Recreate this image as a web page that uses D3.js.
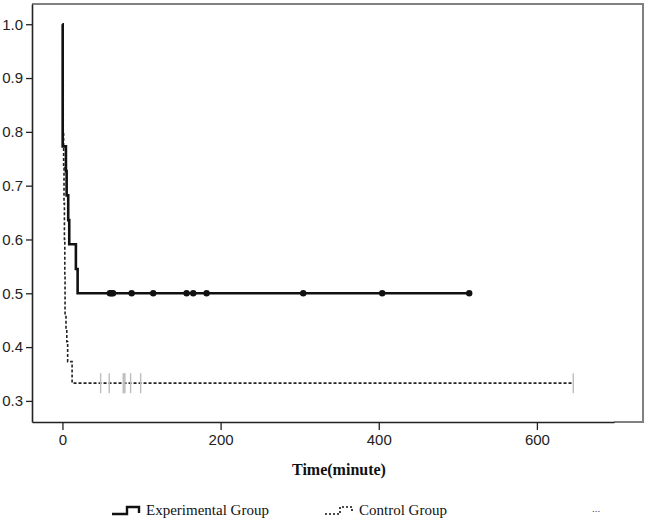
<!DOCTYPE html>
<html>
<head>
<meta charset="utf-8">
<script src="https://cdn.jsdelivr.net/npm/d3@7"></script>
<style>
  body { margin: 0; background: #fff; }
  svg { display: block; }
</style>
</head>
<body>
<svg width="648" height="521"></svg>
<script>
// experimental group: step times and survival after each step
const expTime = [0, 0.3, 4.4, 5.3, 7.3, 8.6, 17, 19.2];
const expSurv = [1.0, 0.773, 0.727, 0.682, 0.636, 0.591, 0.545, 0.5];
const expCensor = [60, 62, 64, 87.5, 114.8, 157, 165.4, 182.3, 304.5, 404.4, 514.4];

// control group
const ctrlTime = [0, 0.5, 1, 1.5, 2, 2.5, 3, 3.3, 4.5, 5.5, 6.6, 12.2];
const ctrlSurv = [1.0, 0.9, 0.8, 0.733, 0.667, 0.6, 0.533, 0.46, 0.433, 0.41, 0.373, 0.333];
const ctrlCensor = [48.3, 59.2, 76.9, 78, 79, 86.2, 98.9, 646];

const xTicks = [0, 200, 400, 600];
const yTicks = [0.3, 0.4, 0.5, 0.6, 0.7, 0.8, 0.9, 1.0];

const legendItems = ["Experimental Group", "Control Group"];
const x_label = "Time(minute)";

const plot = { left: 32, right: 614, frameRight: 643, top: 4, bottom: 422 };

const svg = d3.select("svg");

const x_scale = d3.scaleLinear().domain([-38.5, 697.5]).range([plot.left, plot.right]);
const y_scale = d3.scaleLinear().domain([0.2608, 1.0376]).range([plot.bottom, plot.top]);

// gray frame (top, right, lower right piece)
svg.append("path")
  .attr("d", `M${plot.left},${plot.top}H${plot.frameRight}V${plot.bottom}H${plot.right}`)
  .attr("fill", "none")
  .attr("stroke", "#808080")
  .attr("stroke-width", 2);

const y_axis = d3.axisLeft(y_scale)
  .tickValues(yTicks)
  .tickFormat(d3.format(".1f"))
  .tickSize(6)
  .tickSizeOuter(0)
  .tickPadding(3);

const x_axis = d3.axisBottom(x_scale)
  .tickValues(xTicks)
  .tickSize(8)
  .tickSizeOuter(0)
  .tickPadding(4);

const gy = svg.append("g").attr("transform", `translate(${plot.left},0)`).call(y_axis);
const gx = svg.append("g").attr("transform", `translate(0,${plot.bottom})`).call(x_axis);

[gx, gy].forEach(g => {
  g.selectAll(".domain").attr("stroke", "#222").attr("stroke-width", 1.6);
  g.selectAll(".tick line").attr("stroke", "#222").attr("stroke-width", 1.3);
  g.selectAll("text")
    .attr("fill", "#222")
    .style("font-family", "'Liberation Sans', Arial, sans-serif")
    .style("font-size", "15px");
});

function stepPoints(times, surv, end) {
  const pts = [];
  for (let i = 0; i < times.length; i++) {
    if (i > 0) pts.push([times[i], surv[i - 1]]);
    pts.push([times[i], surv[i]]);
  }
  pts.push([end, surv[surv.length - 1]]);
  return pts;
}

const line_generator = d3.line()
  .x(d => x_scale(d[0]))
  .y(d => y_scale(d[1]));

// control (drawn first, sits under the experimental line)
const ctrlEnd = d3.max(ctrlCensor);
svg.append("path")
  .attr("d", line_generator(stepPoints(ctrlTime, ctrlSurv, ctrlEnd)))
  .attr("fill", "none")
  .attr("stroke", "#222")
  .attr("stroke-width", 1.6)
  .attr("stroke-dasharray", "3,2");

const ctrlLast = ctrlSurv[ctrlSurv.length - 1];
svg.selectAll(".ctrl-censor")
  .data(ctrlCensor)
  .enter()
  .append("line")
  .attr("x1", d => x_scale(d))
  .attr("x2", d => x_scale(d))
  .attr("y1", y_scale(ctrlLast) - 10)
  .attr("y2", y_scale(ctrlLast) + 10)
  .attr("stroke", "#bdbdbd")
  .attr("stroke-width", 1.4);

// experimental
const expEnd = d3.max(expCensor);
svg.append("path")
  .attr("d", line_generator(stepPoints(expTime, expSurv, expEnd)))
  .attr("fill", "none")
  .attr("stroke", "#111")
  .attr("stroke-width", 2.6);

const expLast = expSurv[expSurv.length - 1];
svg.selectAll(".exp-censor")
  .data(expCensor)
  .enter()
  .append("circle")
  .attr("cx", d => x_scale(d))
  .attr("cy", y_scale(expLast))
  .attr("r", 3.2)
  .attr("fill", "#111");

// axis title
svg.append("text")
  .attr("x", 339)
  .attr("y", 475)
  .attr("text-anchor", "middle")
  .style("font-family", "'Liberation Serif', 'Times New Roman', serif")
  .style("font-weight", "bold")
  .style("font-size", "16px")
  .attr("fill", "#111")
  .text(x_label);

// legend
const legendX = [112, 325];
const lg = svg.append("g")
  .style("font-family", "'Liberation Serif', 'Times New Roman', serif")
  .style("font-size", "15px");

legendItems.forEach((name, i) => {
  const x0 = legendX[i];
  lg.append("path")
    .attr("d", `M${x0},514H${x0 + 15}V507H${x0 + 27}V513`)
    .attr("fill", "none")
    .attr("stroke", "#111")
    .attr("stroke-width", i === 0 ? 2.4 : 1.6)
    .attr("stroke-dasharray", i === 0 ? null : "2,2");
  lg.append("text")
    .attr("x", x0 + 34)
    .attr("y", 515)
    .attr("fill", "#111")
    .text(name);
});

lg.append("text")
  .attr("x", 592)
  .attr("y", 512)
  .attr("fill", "#555")
  .style("font-size", "11px")
  .text("...");
</script>
</body>
</html>
